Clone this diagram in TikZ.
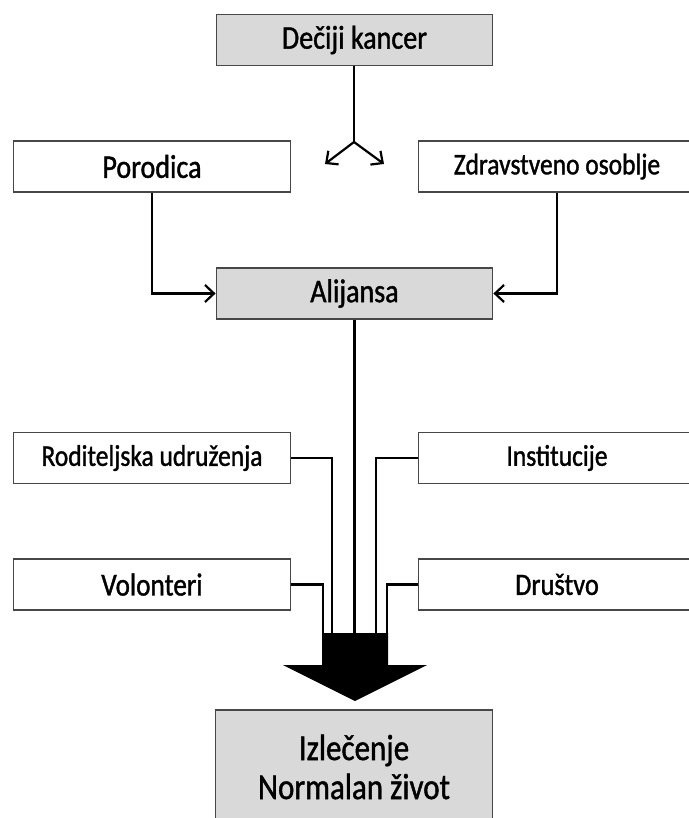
\documentclass[tikz,border=0pt]{standalone}
\usepackage{fontspec}
\setmainfont{Carlito}[FakeStretch=0.85, FakeBold=1.2]
\usetikzlibrary{arrows.meta}

\tikzset{
  box/.style={draw=black!72, line width=1.3pt, fill=white, inner sep=0pt,
              minimum width=276.5pt, minimum height=51pt,
              font=\fontsize{33}{38}\selectfont},
  greybox/.style={box, fill=black!15},
  smalltext/.style={font=\fontsize{30}{34}\selectfont},
  link/.style={draw=black, line width=2.2pt},
  barb/.style={link, -{Straight Barb[length=9pt, width=17pt, line width=2.2pt]}},
  bigarrow/.style={fill=black, draw=none}
}

\begin{document}
\begin{tikzpicture}[x=1pt, y=-1pt]
  \useasboundingbox (0,0) rectangle (688,818);

  % boxes
  \node[greybox] (kancer)   at (354.5, 40)   {Dečiji kancer};
  \node[box]     (porodica) at (152, 166.5)  {Porodica};
  \node[box, smalltext] (zdrav) at (557, 166.5) {Zdravstveno osoblje};
  \node[greybox] (alijansa) at (354.5, 293.5) {Alijansa};
  \node[box, smalltext] (rod)  at (152, 458)  {Roditeljska udruženja};
  \node[box, smalltext] (inst) at (557, 458)  {Institucije};
  \node[box, font=\fontsize{32}{36}\selectfont] (vol)  at (152, 584.5) {Volonteri};
  \node[box, font=\fontsize{31}{36}\selectfont] (drus) at (557, 584.5) {Društvo};
  \node[greybox, minimum height=114pt, align=center,
        font=\fontsize{36.5}{39}\selectfont] (ishod) at (354, 767)
        {Izlečenje\\Normalan život};

  % split below the first box
  \coordinate (split) at (354, 142);
  \coordinate (splitL) at (325, 164);
  \coordinate (splitR) at (384, 164);
  \draw[link] (kancer.south -| split) -- (split);
  \draw[barb] (split) -- (splitL);
  \draw[barb] (split) -- (splitR);

  % into the alliance
  \draw[barb] (porodica.south) |- (alijansa.west);
  \draw[barb] (zdrav.south) |- (alijansa.east);

  % big downward arrow
  \coordinate (bigA) at (322, 633);
  \coordinate (bigB) at (388, 633);
  \coordinate (bigC) at (388, 665);
  \coordinate (bigD) at (427, 665);
  \coordinate (bigtip) at (355, 701);
  \coordinate (bigE) at (283, 665);
  \coordinate (bigF) at (322, 665);
  \fill[bigarrow] (bigA) -- (bigB) -- (bigC) -- (bigD) -- (bigtip)
                  -- (bigE) -- (bigF) -- cycle;

  % feeds into the arrow
  \coordinate (inR) at (332.3, 634);
  \coordinate (inA) at (354.5, 634);
  \coordinate (inI) at (375.7, 634);
  \coordinate (inV) at (323, 634);
  \coordinate (inD) at (386.7, 634);
  \draw[link] (alijansa.south) -- (inA);
  \draw[link] (rod.east) -| (inR);
  \draw[link] (inst.west) -| (inI);
  \draw[link] (vol.east) -| (inV);
  \draw[link] (drus.west) -| (inD);
\end{tikzpicture}
\end{document}
